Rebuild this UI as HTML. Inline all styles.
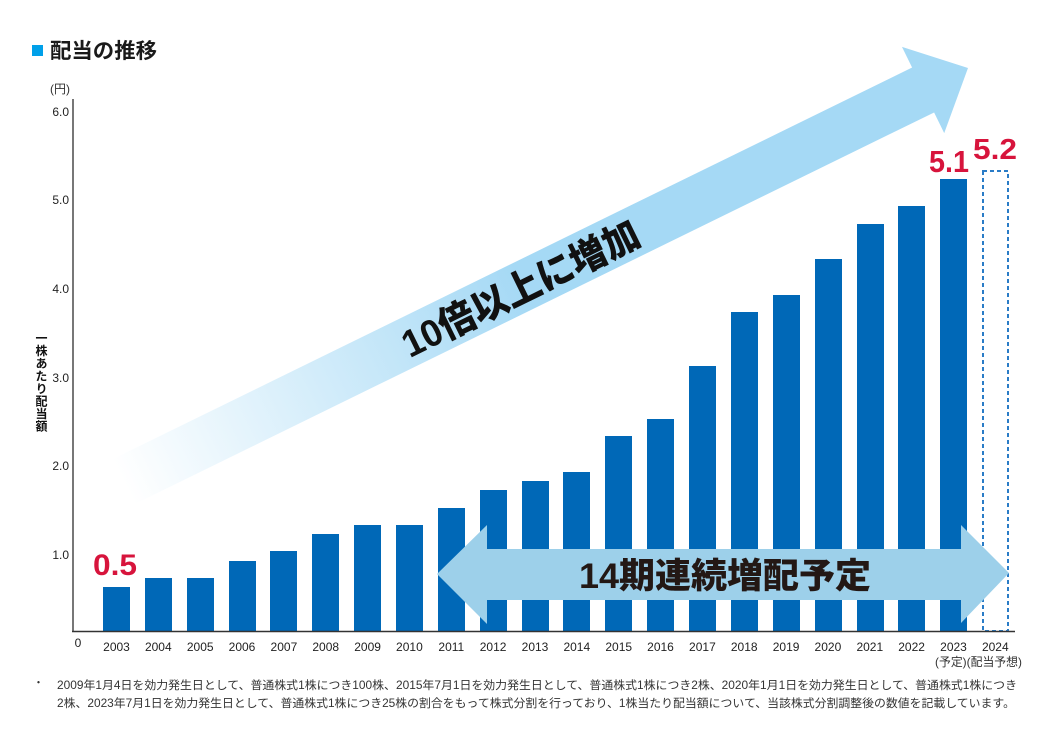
<!DOCTYPE html>
<html><head><meta charset="utf-8">
<style>
html,body{margin:0;padding:0;background:#fff;}
svg{display:block;}
text{font-family:"Liberation Sans","Noto Sans CJK JP",sans-serif;}
</style></head>
<body>
<svg width="1052" height="732" viewBox="0 0 1052 732" xmlns="http://www.w3.org/2000/svg">
<defs>
<linearGradient id="dg" gradientUnits="userSpaceOnUse" x1="-940" y1="0" x2="-50" y2="0">
<stop offset="0" stop-color="#a5d9f5" stop-opacity="0"/>
<stop offset="0.15" stop-color="#a5d9f5" stop-opacity="0.3"/>
<stop offset="0.5" stop-color="#a5d9f5" stop-opacity="1"/>
<stop offset="1" stop-color="#a5d9f5" stop-opacity="1"/>
</linearGradient>
</defs>

<!-- title -->
<rect x="32" y="45" width="11" height="11" fill="#00a0e9"/>
<text x="50" y="58" font-size="21" font-weight="700" fill="#1a1a1a" textLength="107" lengthAdjust="spacingAndGlyphs">配当の推移</text>

<!-- unit -->
<text x="50" y="93" font-size="12" fill="#333">(円)</text>

<!-- y axis title -->
<text x="41" y="332" font-size="12" font-weight="700" fill="#111" style="writing-mode:vertical-rl;glyph-orientation-vertical:0" textLength="100">一株あたり配当額</text>

<!-- y tick labels -->
<g font-size="12" fill="#222" text-anchor="end">
<text x="69" y="116">6.0</text>
<text x="69" y="204">5.0</text>
<text x="69" y="293">4.0</text>
<text x="69" y="382">3.0</text>
<text x="69" y="470">2.0</text>
<text x="69" y="559">1.0</text>
</g>
<text x="78" y="647" font-size="12" fill="#222" text-anchor="middle">0</text>

<!-- diagonal arrow -->
<g transform="translate(968,68) rotate(-26.1)">
<rect x="-940" y="-25" width="892" height="50" fill="url(#dg)"/>
<polygon points="-50,-48 0,0 -50,48" fill="#a5d9f5"/>
<text x="-499" y="15" font-size="38" font-weight="900" fill="#111" text-anchor="middle" textLength="260" lengthAdjust="spacingAndGlyphs">10倍以上に増加</text>
</g>

<!-- bars -->
<g fill="#0068b7">
<rect x="103" y="587" width="27" height="44"/>
<rect x="145" y="578" width="27" height="53"/>
<rect x="187" y="578" width="27" height="53"/>
<rect x="229" y="561" width="27" height="70"/>
<rect x="270" y="551" width="27" height="80"/>
<rect x="312" y="534" width="27" height="97"/>
<rect x="354" y="525" width="27" height="106"/>
<rect x="396" y="525" width="27" height="106"/>
<rect x="438" y="508" width="27" height="123"/>
<rect x="480" y="490" width="27" height="141"/>
<rect x="522" y="481" width="27" height="150"/>
<rect x="563" y="472" width="27" height="159"/>
<rect x="605" y="436" width="27" height="195"/>
<rect x="647" y="419" width="27" height="212"/>
<rect x="689" y="366" width="27" height="265"/>
<rect x="731" y="312" width="27" height="319"/>
<rect x="773" y="295" width="27" height="336"/>
<rect x="815" y="259" width="27" height="372"/>
<rect x="857" y="224" width="27" height="407"/>
<rect x="898" y="206" width="27" height="425"/>
<rect x="940" y="179" width="27" height="452"/>
</g>
<!-- dashed 2024 -->
<rect x="983" y="171" width="25" height="460" fill="none" stroke="#2a7cc7" stroke-width="2" stroke-dasharray="4 3"/>

<!-- horizontal arrow -->
<polygon points="437,574 487,525 487,549 961,549 961,525 1009,573 961,623 961,600 487,600 487,624" fill="#9dd0ea"/>
<text x="725" y="588" font-size="35" font-weight="900" fill="#231815" text-anchor="middle" textLength="292" lengthAdjust="spacingAndGlyphs">14期連続増配予定</text>

<!-- axes -->
<line x1="73" y1="99" x2="73" y2="632" stroke="#555" stroke-width="1.6"/>
<line x1="72" y1="631.5" x2="1015" y2="631.5" stroke="#333" stroke-width="1.6"/>

<!-- red labels -->
<g font-weight="700" fill="#d7143c">
<text x="93" y="575" font-size="30" textLength="44" lengthAdjust="spacingAndGlyphs">0.5</text>
<text x="929" y="172" font-size="31" textLength="40" lengthAdjust="spacingAndGlyphs">5.1</text>
<text x="973" y="159" font-size="29" textLength="44" lengthAdjust="spacingAndGlyphs">5.2</text>
</g>

<!-- x labels -->
<g font-size="12" fill="#222" text-anchor="middle">
<text x="116.5" y="651">2003</text>
<text x="158.3" y="651">2004</text>
<text x="200.2" y="651">2005</text>
<text x="242" y="651">2006</text>
<text x="283.9" y="651">2007</text>
<text x="325.7" y="651">2008</text>
<text x="367.6" y="651">2009</text>
<text x="409.4" y="651">2010</text>
<text x="451.3" y="651">2011</text>
<text x="493.1" y="651">2012</text>
<text x="535" y="651">2013</text>
<text x="576.8" y="651">2014</text>
<text x="618.7" y="651">2015</text>
<text x="660.5" y="651">2016</text>
<text x="702.4" y="651">2017</text>
<text x="744.2" y="651">2018</text>
<text x="786.1" y="651">2019</text>
<text x="827.9" y="651">2020</text>
<text x="869.8" y="651">2021</text>
<text x="911.6" y="651">2022</text>
<text x="953.5" y="651">2023</text>
<text x="995.3" y="651">2024</text>
</g>
<text x="935" y="666" font-size="12" fill="#333" textLength="87" lengthAdjust="spacingAndGlyphs">(予定)(配当予想)</text>

<!-- footnote -->
<text x="33" y="686" font-size="11" fill="#333">・</text>
<text x="57" y="689" font-size="11.5" fill="#333" textLength="960" lengthAdjust="spacingAndGlyphs">2009年1月4日を効力発生日として、普通株式1株につき100株、2015年7月1日を効力発生日として、普通株式1株につき2株、2020年1月1日を効力発生日として、普通株式1株につき</text>
<text x="57" y="707" font-size="11.5" fill="#333" textLength="958" lengthAdjust="spacingAndGlyphs">2株、2023年7月1日を効力発生日として、普通株式1株につき25株の割合をもって株式分割を行っており、1株当たり配当額について、当該株式分割調整後の数値を記載しています。</text>
</svg>
</body></html>
